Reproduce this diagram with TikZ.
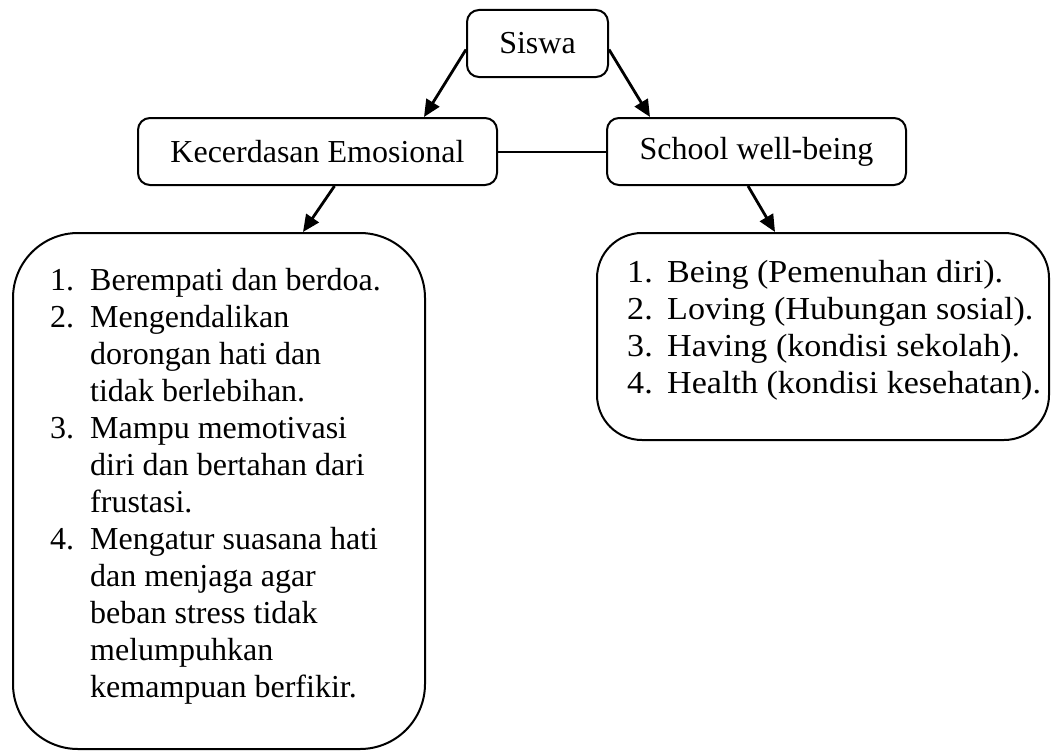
\documentclass[tikz,border=0pt]{standalone}
\usepackage{fontspec}
\setmainfont{Liberation Serif}
\newfontfamily\rfont{Liberation Serif}[FakeStretch=1.065]
\usetikzlibrary{arrows.meta,calc}
\begin{document}
\begin{tikzpicture}[x=1pt,y=-1pt,
  box/.style={draw,line width=2pt,rounded corners=12pt,inner sep=0pt,font=\fontsize{32}{37}\selectfont},
  bigbox/.style={draw,line width=2pt,inner sep=0pt},
  arr/.style={line width=2.8pt,-{Triangle[length=17pt,width=15pt]}},
  list/.style={inner sep=0pt,anchor=base west,font=\fontsize{32}{37}\selectfont,align=left}]
\useasboundingbox (0,0) rectangle (1051,752);
\node[box,minimum width=141pt,minimum height=67pt] (siswa) at (537.5,43.5) {Siswa};
\node[box,minimum width=359pt,minimum height=67pt] (kec) at (317.5,151.5) {Kecerdasan Emosional};
\node[box,minimum width=299pt,minimum height=67pt] (swb) at (756.5,151.5) {School well-being};
\node[bigbox,rounded corners=65pt,minimum width=412pt,minimum height=516pt] (lbox) at (219,491) {};
\node[bigbox,rounded corners=45pt,minimum width=452pt,minimum height=207pt] (rbox) at (823,336.5) {};
\draw[arr] ($(siswa.west)+(0,6)$) -- ($(kec.north east)+(-74,0)$);
\draw[arr] ($(siswa.east)+(0,6)$) -- ($(swb.north west)+(44,0)$);
\draw[line width=2pt] (kec.east) -- (swb.west);
\draw[arr] ($(kec.south)+(17,0)$) -- ($(lbox.north)+(84,0)$);
\draw[arr] ($(swb.south)+(-8.5,0)$) -- ($(rbox.north)+(-48,0)$);
\node[list] (ltext) at (50,290) {\begin{tabular}[t]{@{}p{40pt}@{}l@{}}
1.&Berempati dan berdoa.\\
2.&Mengendalikan\\
&dorongan hati dan\\
&tidak berlebihan.\\
3.&Mampu memotivasi\\
&diri dan bertahan dari\\
&frustasi.\\
4.&Mengatur suasana hati\\
&dan menjaga agar\\
&beban stress tidak\\
&melumpuhkan\\
&kemampuan berfikir.
\end{tabular}};
\node[list,font=\rfont\fontsize{32}{37}\selectfont] (rtext) at (627,282) {\begin{tabular}[t]{@{}p{40pt}@{}l@{}}
1.&Being (Pemenuhan diri).\\
2.&Loving (Hubungan sosial).\\
3.&Having (kondisi sekolah).\\
4.&Health (kondisi kesehatan).
\end{tabular}};
\end{tikzpicture}
\end{document}
